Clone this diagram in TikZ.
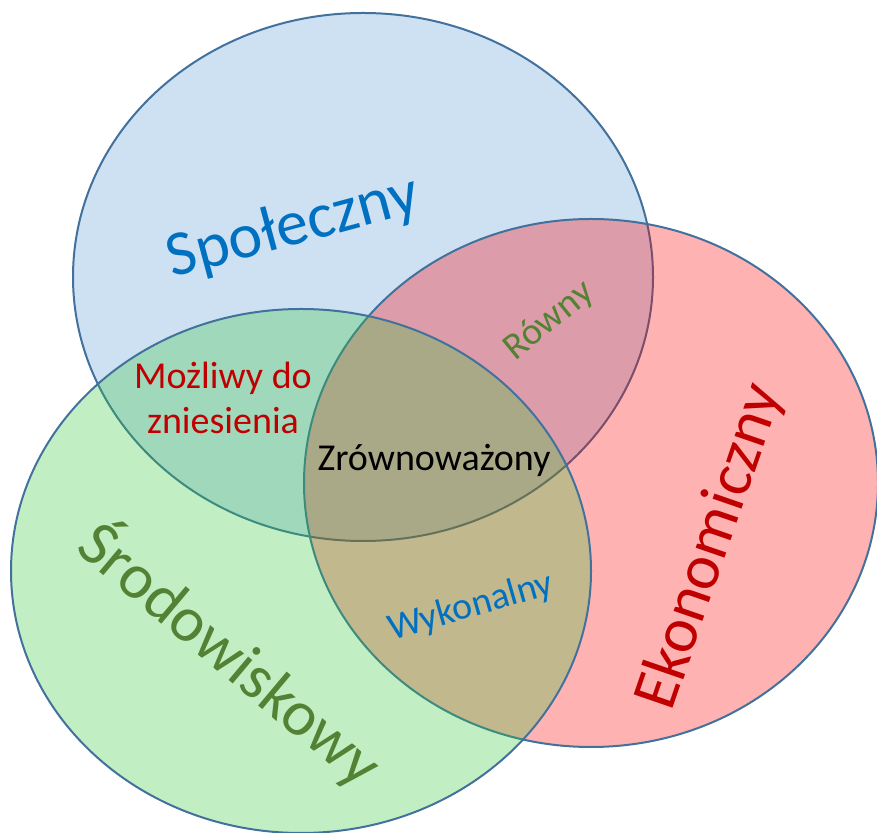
\documentclass[tikz,border=0pt]{standalone}
\usepackage{fontspec}
\setmainfont{Carlito}

\definecolor{socblue}{HTML}{5B9BD5}
\definecolor{ecored}{HTML}{FF0000}
\definecolor{envgreen}{RGB}{52,198,58}
\definecolor{edgeblue}{HTML}{41719C}
\definecolor{txtblue}{HTML}{0070C0}
\definecolor{txtred}{HTML}{C00000}
\definecolor{txtgreen}{HTML}{548235}

\begin{document}
\begin{tikzpicture}[x=1pt, y=1pt,
    set/.style={draw=edgeblue, line width=2pt, fill opacity=0.3},
    big/.style={font=\fontsize{64}{77}\selectfont, inner sep=0pt},
    small/.style={font=\fontsize{38}{44.5}\selectfont, inner sep=0pt, align=center}]
    \useasboundingbox (0,0) rectangle (877,832);

    % Circles
    \draw[set, fill=socblue] (363,555) ellipse (290pt and 264pt);
    \draw[set, fill=ecored] (591,349) ellipse (287pt and 264pt);
    \draw[set, fill=envgreen] (301,261) ellipse (290pt and 262pt);

    % Labels
    \node[big, text=txtblue, rotate=15] (soc) at (293,604) {Społeczny};
    \node[big, text=txtred, rotate=71] (eco) at (711,285) {Ekonomiczny};
    \node[big, text=txtgreen, rotate=-40] (env) at (231,178) {Środowiskowy};
    \node[small, text=txtgreen, rotate=39] (equ) at (549,511) {Równy};
    \node[small, text=txtred] (bear) at (223,434) {Możliwy do\\zniesienia};
    \node[small] (sus) at (434,372) {Zrównoważony};
    \node[small, text=txtblue, rotate=16] (via) at (471,225) {Wykonalny};
\end{tikzpicture}
\end{document}
